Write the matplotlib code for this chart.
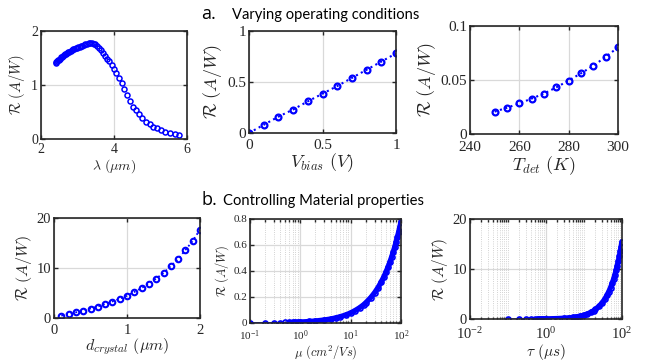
import matplotlib
matplotlib.use("Agg")
import matplotlib.pyplot as plt
import numpy as np
from matplotlib.ticker import LogLocator, FuncFormatter, NullFormatter

# ==============================
# DATA
# ==============================
lam = [2.400, 2.424, 2.448, 2.472, 2.497, 2.523, 2.549, 2.576, 2.603, 2.631,
       2.660, 2.689, 2.718, 2.749, 2.780, 2.811, 2.844, 2.878, 2.911, 2.946,
       2.982, 3.018, 3.056, 3.095, 3.134, 3.175, 3.216, 3.258, 3.303, 3.348,
       3.393, 3.441, 3.490, 3.540, 3.592, 3.646, 3.700, 3.757, 3.815, 3.874,
       3.937, 4.002, 4.067, 4.136, 4.207, 4.279, 4.355, 4.435, 4.515, 4.600,
       4.688, 4.778, 4.873, 4.973, 5.074, 5.181, 5.294, 5.408, 5.531, 5.659,
       5.790]
R_lam = [1.40, 1.42, 1.44, 1.46, 1.47, 1.49, 1.51, 1.52, 1.54, 1.55,
         1.57, 1.58, 1.59, 1.61, 1.62, 1.63, 1.64, 1.66, 1.67, 1.68,
         1.69, 1.70, 1.71, 1.72, 1.73, 1.74, 1.75, 1.76, 1.77, 1.77,
         1.77, 1.76, 1.75, 1.73, 1.69, 1.64, 1.59, 1.54, 1.49, 1.44,
         1.37, 1.30, 1.22, 1.13, 1.03, 0.92, 0.81, 0.70, 0.60, 0.53,
         0.46, 0.39, 0.32, 0.27, 0.23, 0.195, 0.16, 0.135, 0.12, 0.095,
         0.075]

vbias = [0.0, 0.1, 0.2, 0.3, 0.4, 0.5, 0.6, 0.7, 0.8, 0.9, 1.0]
R_vbias = [0.0, 0.08, 0.16, 0.23, 0.31, 0.385, 0.46, 0.54, 0.62, 0.70, 0.78]

tdet = [250, 255, 260, 265, 270, 275, 280, 285, 290, 295, 300]
R_tdet = [0.0207, 0.0243, 0.0283, 0.0328, 0.0374, 0.0432, 0.0495, 0.0562,
          0.0632, 0.0714, 0.0802]

dcr = [0.1, 0.2, 0.3, 0.4, 0.5, 0.6, 0.7, 0.8, 0.9, 1.0,
       1.1, 1.2, 1.3, 1.4, 1.5, 1.6, 1.7, 1.8, 1.9, 2.0]
R_dcr = [0.47, 0.8, 1.13, 1.5, 1.9, 2.3, 2.8, 3.3, 3.85, 4.45,
         5.2, 6.0, 6.9, 7.9, 9.0, 10.4, 11.8, 13.6, 15.4, 17.7]

mu = [0.1, 0.2, 0.3, 0.4, 0.5, 0.6, 0.7, 0.8, 0.9, 1.0, 1.5, 2, 3, 4, 5, 6, 8,
      10, 12, 15, 18, 20, 25, 30, 35, 40, 45, 50, 55, 60, 65, 70, 75, 80, 85,
      90, 95, 100]
R_mu = [0.0008, 0.0016, 0.0023, 0.0031, 0.0039, 0.0047, 0.0055, 0.0062,
        0.0070, 0.0078, 0.0117, 0.0156, 0.0234, 0.031, 0.039, 0.047, 0.062,
        0.078, 0.094, 0.117, 0.140, 0.156, 0.195, 0.234, 0.273, 0.312, 0.351,
        0.390, 0.429, 0.468, 0.507, 0.546, 0.585, 0.624, 0.663, 0.702, 0.741,
        0.780]

tau = [0.1, 0.2, 0.3, 0.4, 0.5, 0.6, 0.7, 0.8, 0.9, 1.0, 1.5, 2, 3, 4, 5, 6, 8,
       10, 12, 15, 18, 20, 25, 30, 35, 40, 45, 50, 55, 60, 65, 70, 75, 80, 85,
       90, 95, 100]
R_tau = [0.002, 0.005, 0.008, 0.012, 0.016, 0.020, 0.025, 0.029, 0.034, 0.039,
         0.066, 0.096, 0.162, 0.236, 0.316, 0.40, 0.58, 0.78, 0.98, 1.32, 1.67,
         1.91, 2.56, 3.24, 3.96, 4.71, 5.49, 6.30, 7.12, 7.98, 8.86, 9.75,
         10.67, 11.60, 12.54, 13.52, 14.50, 15.5]

# ==============================
# STYLE
# ==============================
plt.rcParams["font.family"] = "serif"
plt.rcParams["font.serif"] = ["Liberation Serif", "DejaVu Serif"]
plt.rcParams["mathtext.fontset"] = "cm"

BLUE = "#0000ff"
INK = "#262626"
W, H = 650, 364
fig = plt.figure(figsize=(W / 100, H / 100), dpi=100)


def px_axes(l, t, r, b):
    return fig.add_axes([l / W, 1 - b / H, (r - l) / W, (b - t) / H])


def style(ax, fs):
    for s in ax.spines.values():
        s.set_linewidth(1.2)
        s.set_color(INK)
    ax.tick_params(which="both", direction="in", top=True, right=True,
                   width=1.0, colors=INK, labelsize=fs, pad=2)
    ax.tick_params(which="major", length=3)
    ax.tick_params(which="minor", length=1.8)
    ax.grid(True, which="major", color="#d9d9d9", lw=0.9)
    ax.set_axisbelow(True)
    ax.yaxis.set_major_formatter(FuncFormatter(lambda v, p: f"{v:g}"))


ylab = r"$\mathcal{R}\ (A/W)$"

# ---- a.1 : wavelength
ax = px_axes(41, 31, 187, 139)
ax.plot(lam, R_lam, "o", ms=3.6, mfc="none", mec=BLUE, mew=1.1)
ax.set_xlim(2, 6)
ax.set_ylim(0, 2)
ax.set_xticks([2, 4, 6])
ax.set_yticks([0, 1, 2])
style(ax, 10)
ax.tick_params(axis="x", pad=3)
ax.set_xlabel(r"$\lambda\ (\mu m)$", fontsize=10, color=INK, labelpad=1)
ax.set_ylabel(ylab, fontsize=10.5, color=INK, labelpad=3)

# ---- a.2 : bias voltage
ax = px_axes(249, 31, 396, 133)
ax.plot(vbias, R_vbias, "o:", color=BLUE, ms=4.2, mfc="none", mew=1.6, lw=1.5)
ax.set_xlim(0, 1)
ax.set_ylim(0, 1)
ax.set_xticks([0, 0.5, 1])
ax.set_yticks([0, 0.5, 1])
style(ax, 11)
ax.tick_params(axis="x", pad=4)
ax.xaxis.set_major_formatter(FuncFormatter(lambda v, p: f"{v:g}"))
ax.set_xlabel(r"$V_{bias}\ (V)$", fontsize=13, color=INK, labelpad=0)
ax.set_ylabel(ylab, fontsize=13, color=INK, labelpad=2)

# ---- a.3 : detector temperature
ax = px_axes(470, 26, 618, 134)
ax.plot(tdet, R_tdet, "o:", color=BLUE, ms=4.2, mfc="none", mew=1.6, lw=1.5)
ax.set_xlim(240, 300)
ax.set_ylim(0, 0.1)
ax.set_xticks([240, 260, 280, 300])
ax.set_yticks([0, 0.05, 0.1])
style(ax, 11)
ax.tick_params(axis="x", pad=5)
ax.set_xlabel(r"$T_{det}\ (K)$", fontsize=13, color=INK, labelpad=0)
ax.set_ylabel(ylab, fontsize=13, color=INK, labelpad=2)

# ---- b.1 : crystal thickness
ax = px_axes(54, 218, 200, 318)
ax.plot(dcr, R_dcr, "o:", color=BLUE, ms=4.0, mfc="none", mew=1.5, lw=1.3)
ax.set_xlim(0, 2)
ax.set_ylim(0, 20)
ax.set_xticks([0, 1, 2])
ax.set_yticks([0, 10, 20])
style(ax, 10.5)
ax.tick_params(axis="x", pad=4)
ax.set_xlabel(r"$d_{crystal}\ (\mu m)$", fontsize=11.5, color=INK, labelpad=0)
ax.set_ylabel(ylab, fontsize=11.5, color=INK, labelpad=2)


def dense(ax, x, y):
    x = np.asarray(x)
    y = np.asarray(y)
    ax.plot(x, y, "o-", color=BLUE, ms=3.6, mfc="none", mew=1.2, lw=1.0)
    m = x >= 0.6
    ax.plot(x[m], y[m], "-", color=BLUE, lw=3.8, solid_capstyle="round")


def logstyle(ax, major_base):
    ax.set_xscale("log")
    ax.xaxis.set_major_locator(LogLocator(base=major_base, numticks=10))
    ax.xaxis.set_minor_locator(LogLocator(base=10, subs=np.arange(1, 10), numticks=20))
    ax.xaxis.set_minor_formatter(NullFormatter())
    ax.grid(True, which="minor", axis="x", color="#c4c4c4", lw=0.6, ls=":")


# ---- b.2 : mobility
ax = px_axes(250, 219, 401, 323)
dense(ax, mu, R_mu)
logstyle(ax, 10)
ax.set_xlim(0.1, 100)
ax.set_ylim(0, 0.8)
ax.set_yticks([0, 0.2, 0.4, 0.6, 0.8])
style(ax, 8)
ax.tick_params(axis="x", pad=4)
ax.set_xlabel(r"$\mu\ (cm^2/Vs)$", fontsize=9, color=INK, labelpad=0)
ax.set_ylabel(ylab, fontsize=9, color=INK, labelpad=2)

# ---- b.3 : lifetime
ax = px_axes(470, 219, 622, 319)
dense(ax, tau, R_tau)
logstyle(ax, 100)
ax.set_xlim(0.01, 100)
ax.set_ylim(0, 20)
ax.set_yticks([0, 10, 20])
style(ax, 10.5)
ax.tick_params(axis="x", pad=5)
ax.set_xlabel(r"$\tau\ (\mu s)$", fontsize=11, color=INK, labelpad=0)
ax.set_ylabel(ylab, fontsize=11, color=INK, labelpad=2)

# ==============================
# SECTION HEADINGS
# ==============================
fig.text(201 / W, 1 - 19 / H, "a.", fontsize=13, family="Open Sans", color="black")
fig.text(232 / W, 1 - 19 / H, "Varying operating conditions", fontsize=10.6,
         family="Lato", color="black")
fig.text(202 / W, 1 - 205 / H, "b.", fontsize=13, family="Open Sans", color="black")
fig.text(223 / W, 1 - 205 / H, "Controlling Material properties", fontsize=10.6,
         family="Lato", color="black")

fig.savefig("out.png", dpi=100)
